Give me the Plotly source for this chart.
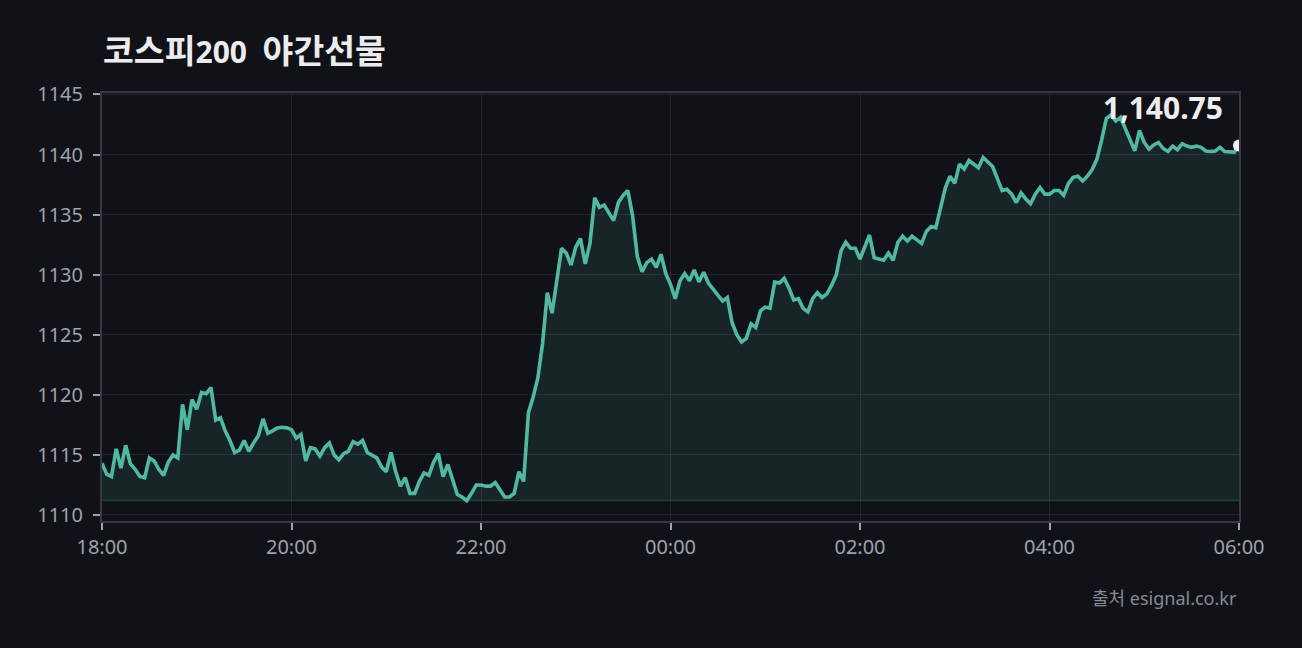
import pandas as pd
import plotly.graph_objects as go

TITLE_KO_1 = "코스피"
TITLE_NUM = "200"
TITLE_KO_2 = "야간선물"
SOURCE = "출처 esignal.co.kr"
START = "2024-01-01 18:00"
STEP_MIN = 3
X_TICK_LABELS = ["18:00", "20:00", "22:00", "00:00", "02:00", "04:00", "06:00"]
Y_TICKS = [1110, 1115, 1120, 1125, 1130, 1135, 1140, 1145]

prices = [
    1114.3, 1113.4, 1113.2, 1115.5, 1113.9, 1115.8, 1114.25, 1113.8, 1113.2, 1113.1,
    1114.75, 1114.5, 1113.8, 1113.3, 1114.4, 1115.0, 1114.75, 1119.2, 1117.1, 1119.6,
    1118.8, 1120.2, 1120.1, 1120.6, 1117.9, 1118.1, 1117.0, 1116.2, 1115.2, 1115.4,
    1116.2, 1115.3, 1116.0, 1116.6, 1118.0, 1116.8, 1117.0, 1117.25, 1117.3, 1117.25,
    1117.1, 1116.4, 1116.7, 1114.5, 1115.6, 1115.5, 1114.9, 1115.6, 1116.0, 1115.0,
    1114.6, 1115.1, 1115.3, 1116.1, 1115.9, 1116.2, 1115.2, 1115.0, 1114.75, 1114.0,
    1113.6, 1115.2, 1113.6, 1112.4, 1113.1, 1111.8, 1111.8, 1112.8, 1113.5, 1113.3,
    1114.4, 1115.1, 1113.2, 1114.2, 1113.0, 1111.7, 1111.5, 1111.2, 1111.8, 1112.5,
    1112.5, 1112.4, 1112.4, 1112.7, 1112.1, 1111.5, 1111.5, 1111.8, 1113.6, 1112.8,
    1118.5, 1119.8, 1121.4, 1124.3, 1128.5, 1126.8, 1129.5, 1132.2, 1131.8, 1130.8,
    1132.3, 1133.0, 1130.9, 1132.6, 1136.4, 1135.6, 1135.8, 1135.2, 1134.5, 1136.0,
    1136.6, 1137.0, 1134.9, 1131.5, 1130.25, 1131.0, 1131.3, 1130.6, 1131.7, 1130.1,
    1129.2, 1128.0, 1129.5, 1130.1, 1129.5, 1130.4, 1129.4, 1130.2, 1129.3, 1128.8,
    1128.25, 1127.8, 1128.1, 1126.0, 1125.0, 1124.4, 1124.7, 1125.9, 1125.6, 1127.0,
    1127.3, 1127.2, 1129.4, 1129.3, 1129.7, 1128.9, 1127.9, 1128.0, 1127.2, 1126.9,
    1128.0, 1128.5, 1128.1, 1128.4, 1129.1, 1130.0, 1132.0, 1132.7, 1132.2, 1132.2,
    1131.3, 1132.3, 1133.3, 1131.4, 1131.3, 1131.2, 1131.8, 1131.2, 1132.7, 1133.2,
    1132.8, 1133.2, 1132.9, 1132.6, 1133.6, 1134.0, 1133.9, 1135.5, 1137.2, 1138.2,
    1137.6, 1139.2, 1138.8, 1139.5, 1139.2, 1138.9, 1139.75, 1139.4, 1139.0, 1138.0,
    1137.0, 1137.1, 1136.7, 1136.0, 1136.8, 1136.3, 1135.9, 1136.7, 1137.25, 1136.7,
    1136.7, 1137.0, 1137.0, 1136.6, 1137.6, 1138.1, 1138.2, 1137.8, 1138.2, 1138.75,
    1139.6, 1141.2, 1143.0, 1143.3, 1142.8, 1143.1, 1142.2, 1141.2, 1140.3, 1142.0,
    1141.0, 1140.45, 1140.8, 1141.0, 1140.5, 1140.25, 1140.7, 1140.4, 1140.9, 1140.7,
    1140.6, 1140.7, 1140.6, 1140.3, 1140.25, 1140.3, 1140.6, 1140.25, 1140.2, 1140.2,
    1140.75,
]

LAST_LABEL = "1,140.75"

times = pd.date_range(START, periods=len(prices), freq=f"{STEP_MIN}min")
tick_vals = pd.date_range(START, periods=len(X_TICK_LABELS), freq="2h")

BG = "#111217"
LINE = "#50b9a0"
GRID = "#23252d"
AXIS = "#363944"
LATIN = "Noto Sans, Noto Sans CJK KR, sans-serif"
TICK_FONT = dict(family=LATIN, size=20, color="#9da2ac")

base = min(prices)

fig = go.Figure()
fig.add_trace(go.Scatter(
    x=times, y=[base] * len(prices), mode="lines",
    line=dict(color="rgba(79,185,160,0.22)", width=1.5),
    hoverinfo="skip", showlegend=False,
))
fig.add_trace(go.Scatter(
    x=times, y=prices, mode="lines",
    line=dict(color=LINE, width=3.6),
    fill="tonexty", fillcolor="rgba(79,185,160,0.12)",
    showlegend=False,
))
fig.add_trace(go.Scatter(
    x=[times[-1]], y=[prices[-1]], mode="markers",
    marker=dict(color="#f2f2f4", size=12),
    showlegend=False,
))

fig.add_annotation(
    x=times[-1], y=prices[-1], xref="x", yref="y",
    text=f"<b>{LAST_LABEL}</b>", showarrow=False,
    xanchor="right", yanchor="middle", xshift=-14, yshift=38,
    font=dict(family=LATIN, size=30, color="#eeeef0"),
)
fig.add_annotation(
    x=1, y=-0.18, xref="paper", yref="paper",
    text=SOURCE, showarrow=False, xanchor="right", yanchor="middle",
    font=dict(family=LATIN, size=18, color="#868b95"),
)

title_text = (
    f"<b><span style='font-size:33.5px'>{TITLE_KO_1}</span>{TITLE_NUM}&nbsp; "
    f"<span style='font-size:33.5px'>{TITLE_KO_2}</span></b>"
)

fig.update_layout(
    width=1302, height=648,
    paper_bgcolor=BG, plot_bgcolor=BG,
    margin=dict(l=102, r=63, t=93, b=127),
    title=dict(
        text=title_text, xref="container", x=103 / 1302, xanchor="left",
        yref="container", y=1 - 52 / 648, yanchor="middle",
        font=dict(family=LATIN, size=30, color="#ececee"),
    ),
    showlegend=False,
)
fig.update_xaxes(
    range=[tick_vals[0], tick_vals[-1]],
    tickvals=tick_vals, ticktext=X_TICK_LABELS,
    showgrid=True, gridcolor=GRID, gridwidth=1,
    showline=True, linecolor=AXIS, linewidth=2, mirror=True,
    ticks="outside", ticklen=7, tickwidth=2, tickcolor="#9da2ac",
    tickfont=TICK_FONT, zeroline=False,
)
fig.update_yaxes(
    range=[1109.5, 1145.12],
    tickvals=Y_TICKS, ticktext=[str(v) for v in Y_TICKS],
    showgrid=True, gridcolor=GRID, gridwidth=1,
    showline=True, linecolor=AXIS, linewidth=2, mirror=True,
    ticks="outside", ticklen=7, tickwidth=2, tickcolor="#9da2ac",
    ticklabelstandoff=6,
    tickfont=TICK_FONT, zeroline=False,
)

fig.write_html(
    "out.html",
    config={"displayModeBar": False},
    post_script=f"document.body.style.margin='0';document.body.style.background='{BG}';",
)
